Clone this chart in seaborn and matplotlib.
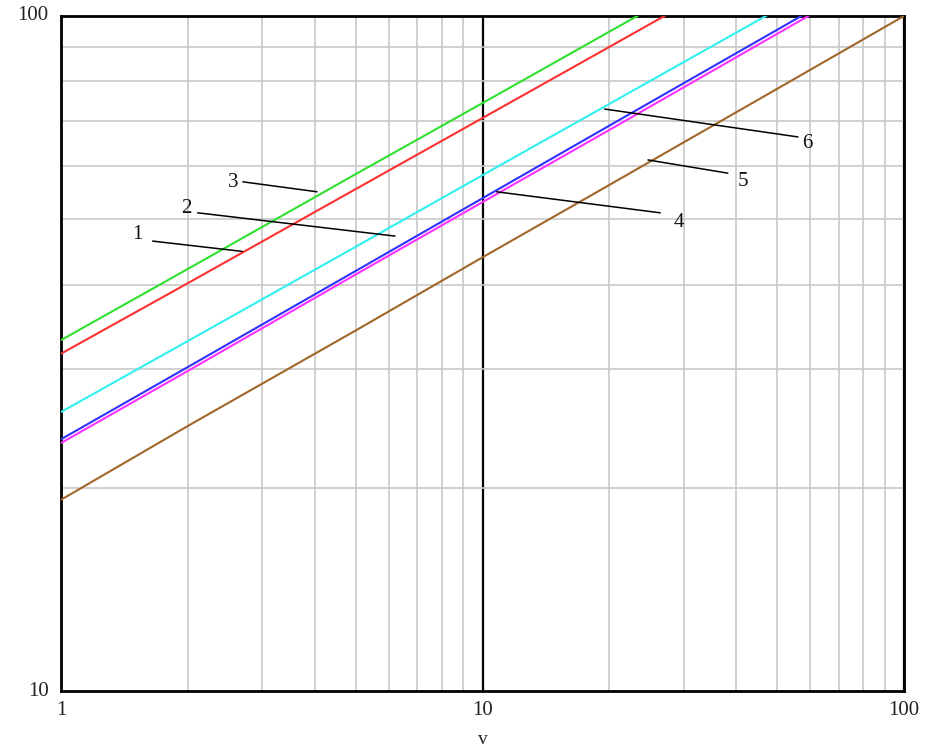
import numpy as np
import pandas as pd
import seaborn as sns
import matplotlib.pyplot as plt
from matplotlib.ticker import LogLocator, NullFormatter, FixedLocator, FixedFormatter

# ---- data ----
v_values = [1, 2, 5, 10, 20, 50, 100]
curve_1_red = [31.6, 40.2, 55.4, 70.6, 90.0, 124.1, 158.1]
curve_2_magenta = [23.3, 29.8, 41.4, 53.0, 67.8, 94.1, 120.5]
curve_3_green = [33.1, 42.2, 58.3, 74.3, 94.8, 130.7, 166.7]
curve_4_blue = [23.6, 30.2, 41.9, 53.7, 68.8, 95.4, 122.2]
curve_5_brown = [19.2, 24.7, 34.2, 43.9, 56.2, 78.0, 100.0]
curve_6_cyan = [25.9, 33.0, 45.5, 58.1, 74.1, 102.2, 130.3]

curve_names = ["1", "2", "3", "4", "5", "6"]
curve_colors = ["#ff3030", "#ff30ff", "#30e030", "#3030ff", "#a0662a", "#30f0f0"]

x_tick_values = [1, 10, 100]
x_tick_labels = ["1", "10", "100"]
y_tick_values = [10, 100]
y_tick_labels = ["10", "100"]

# label text position, leader start, leader tip (data coords)
ann_labels = ["1", "2", "3", "4", "5", "6"]
ann_text = [(1.52, 47.4), (1.98, 51.8), (2.56, 56.6), (29.3, 49.5), (41.5, 56.8), (58.9, 64.8)]
ann_start = [(1.65, 46.4), (2.11, 51.1), (2.70, 56.8), (26.4, 51.1), (38.2, 58.5), (56.0, 66.2)]
ann_tip = [(2.69, 44.8), (6.20, 47.2), (4.05, 54.9), (10.8, 54.9), (24.7, 61.2), (19.5, 72.8)]

# ---- build long-form table ----
series = [curve_1_red, curve_2_magenta, curve_3_green, curve_4_blue, curve_5_brown, curve_6_cyan]
rows = []
for name, vals in zip(curve_names, series):
    for xv, yv in zip(v_values, vals):
        rows.append({"v": xv, "y": yv, "curve": name})
df = pd.DataFrame(rows)

sns.set_theme(style="white")
plt.rcParams["font.family"] = ["Liberation Serif", "DejaVu Serif"]

fig = plt.figure(figsize=(9.31, 7.51), dpi=100)
ax = fig.add_axes([61 / 931, 1 - 691 / 751, 843 / 931, 675 / 751])

ax.set_xscale("log")
ax.set_yscale("log")

# draw order so that magenta sits under blue
order = ["5", "2", "4", "6", "1", "3"]
palette = dict(zip(curve_names, curve_colors))
for name in order:
    sub = df[df["curve"] == name]
    sns.lineplot(data=sub, x="v", y="y", color=palette[name], linewidth=1.5,
                 ax=ax, legend=False, zorder=3)

ax.set_xlim(1, 100)
ax.set_ylim(10, 100)

ax.xaxis.set_major_locator(FixedLocator(x_tick_values))
ax.xaxis.set_major_formatter(FixedFormatter(x_tick_labels))
ax.yaxis.set_major_locator(FixedLocator(y_tick_values))
ax.yaxis.set_major_formatter(FixedFormatter(y_tick_labels))
ax.xaxis.set_minor_locator(LogLocator(base=10, subs=range(2, 10)))
ax.yaxis.set_minor_locator(LogLocator(base=10, subs=range(2, 10)))
ax.xaxis.set_minor_formatter(NullFormatter())
ax.yaxis.set_minor_formatter(NullFormatter())

ax.set_axisbelow(True)
ax.grid(which="minor", color="#c8c8c8", linewidth=1.2)
ax.grid(which="major", axis="x", color="black", linewidth=1.6)
ax.grid(which="major", axis="y", visible=False)

ax.tick_params(which="both", length=0)
ax.tick_params(axis="x", pad=7, labelsize=15, colors="#222222")
ax.tick_params(axis="y", pad=9, labelsize=15, colors="#222222")
for lab in ax.get_yticklabels():
    lab.set_verticalalignment("center")

for s in ax.spines.values():
    s.set_color("black")
    s.set_linewidth(2)

ax.set_xlabel("v", fontsize=14, labelpad=8, color="#222222")
ax.set_ylabel("")

for lab, (tx, ty), (sx, sy), (px, py) in zip(ann_labels, ann_text, ann_start, ann_tip):
    ax.plot([sx, px], [sy, py], color="black", linewidth=1.1, zorder=4)
    ax.text(tx, ty, lab, fontsize=15, ha="center", va="center", color="#111111", zorder=5)

fig.savefig("out.png", dpi=100)
